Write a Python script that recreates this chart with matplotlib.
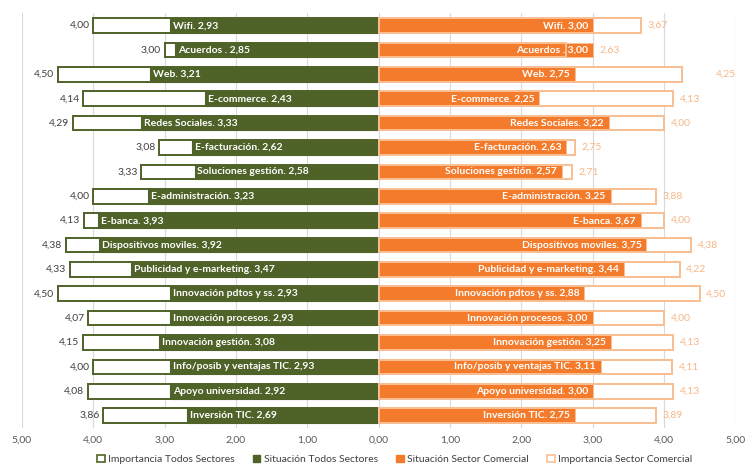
import matplotlib
matplotlib.use("Agg")
import matplotlib.pyplot as plt
import numpy as np
from matplotlib.patches import Patch

plt.rcParams['font.family'] = ['Lato', 'DejaVu Sans']

categories = ["Wifi", "Acuerdos ", "Web", "E-commerce", "Redes Sociales", "E-facturación",
              "Soluciones gestión", "E-administración", "E-banca", "Dispositivos moviles",
              "Publicidad y e-marketing", "Innovación pdtos y ss.", "Innovación procesos",
              "Innovación gestión", "Info/posib y ventajas TIC", "Apoyo universidad", "Inversión TIC"]
imp_todos = [4.00, 3.00, 4.50, 4.14, 4.29, 3.08, 3.33, 4.00, 4.13, 4.38, 4.33, 4.50, 4.07, 4.15, 4.00, 4.08, 3.86]
sit_todos = [2.93, 2.85, 3.21, 2.43, 3.33, 2.62, 2.58, 3.23, 3.93, 3.92, 3.47, 2.93, 2.93, 3.08, 2.93, 2.92, 2.69]
sit_com = [3.00, 3.00, 2.75, 2.25, 3.22, 2.63, 2.57, 3.25, 3.67, 3.75, 3.44, 2.88, 3.00, 3.25, 3.11, 3.00, 2.75]
imp_com = [3.67, 2.63, 4.25, 4.13, 4.00, 2.75, 2.71, 3.88, 4.00, 4.38, 4.22, 4.50, 4.00, 4.13, 4.11, 4.13, 3.89]
xticks = [-5, -4, -3, -2, -1, 0, 1, 2, 3, 4, 5]
xtick_labels = ["5,00", "4,00", "3,00", "2,00", "1,00", "0,00", "1,00", "2,00", "3,00", "4,00", "5,00"]
series_names = ["Importancia Todos Sectores", "Situación Todos Sectores",
                "Situación Sector Comercial", "Importancia Sector Comercial"]

GREEN = "#4F6228"
ORANGE = "#F47B2B"
LORANGE = "#F8B687"
LORANGE_EDGE = "#F9BF94"

def fmt(v):
    return f"{v:.2f}".replace(".", ",")

def lab(cat, v):
    sep = " " if cat.endswith(".") else ". "
    return f"{cat}{sep}{fmt(v)}"

fig = plt.figure(figsize=(7.56, 4.65), dpi=100)
ax = fig.add_axes([0.029, 0.080, 0.944, 0.891])

n = len(categories)
y = np.arange(n)
h = 0.6

imp_t = -np.array(imp_todos)
sit_t = -np.array(sit_todos)

# left side
ax.barh(y, imp_t, height=h, color="white", edgecolor=GREEN, linewidth=1.4, zorder=2)
ax.barh(y, sit_t, height=h, color=GREEN, edgecolor=GREEN, linewidth=0.8, zorder=3)
# right side
ax.barh(y, imp_com, height=h, color="white", edgecolor=LORANGE_EDGE, linewidth=1.4, zorder=2)
ax.barh(y, sit_com, height=h, color=ORANGE, edgecolor=LORANGE_EDGE, linewidth=0.6, zorder=3)
ax.barh(y, imp_com, height=h, color="none", edgecolor=LORANGE_EDGE, linewidth=1.4, zorder=4)

# extra nudges for right outside labels (in data units)
nudge = {2: 0.38}

for i in range(n):
    ax.text(-imp_todos[i] - 0.05, y[i], fmt(imp_todos[i]), ha="right", va="center",
            fontsize=7.5, color="#404040", zorder=5)
    ax.text(-sit_todos[i] + 0.04, y[i], lab(categories[i], sit_todos[i]), ha="left",
            va="center", fontsize=7.5, fontweight="bold", color="white", zorder=5)
    ax.text(sit_com[i] - 0.07, y[i], lab(categories[i], sit_com[i]), ha="right",
            va="center", fontsize=7.5, fontweight="bold", color="white", zorder=3.5)
    xr = max(imp_com[i], sit_com[i]) + 0.09 + nudge.get(i, 0)
    ax.text(xr, y[i], fmt(imp_com[i]), ha="left", va="center",
            fontsize=7.5, color=LORANGE, zorder=5)

ax.set_xlim(-5, 5)
ax.set_ylim(n - 0.5, -0.5)
ax.set_xticks(xticks)
ax.set_xticklabels(xtick_labels, fontsize=7.5, color="#595959")
ax.set_yticks([])
ax.tick_params(axis="x", length=0, pad=6)
for s in ax.spines.values():
    s.set_visible(False)
ax.grid(axis="x", color="#D9D9D9", linewidth=0.8, zorder=0)
ax.set_axisbelow(True)

handles = [Patch(facecolor="white", edgecolor=GREEN, linewidth=1.2),
           Patch(facecolor=GREEN, edgecolor=GREEN),
           Patch(facecolor=ORANGE, edgecolor=ORANGE),
           Patch(facecolor="white", edgecolor=LORANGE_EDGE, linewidth=1.2)]
leg = fig.legend(handles, series_names, loc="center", bbox_to_anchor=(0.522, 0.012), ncol=4,
                 frameon=False, fontsize=7.5, handlelength=0.7, handleheight=0.7,
                 handletextpad=0.3, columnspacing=1.8, labelcolor="#404040")

fig.savefig("out.png", dpi=100)
